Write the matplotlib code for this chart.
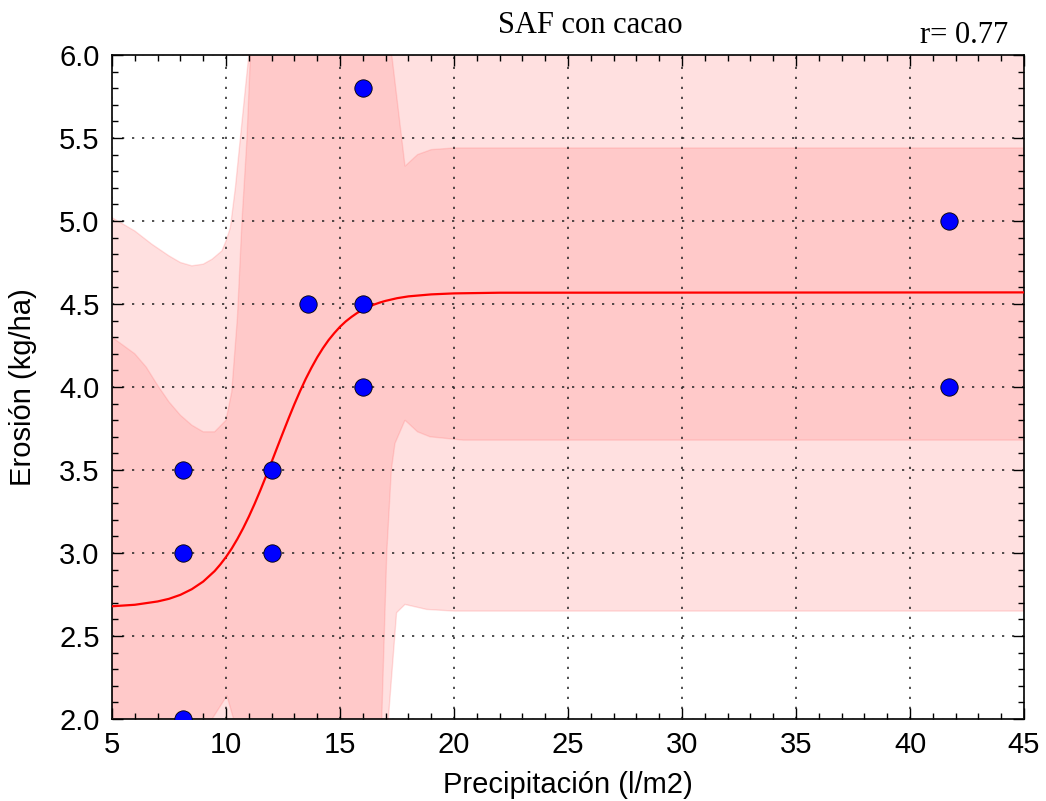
import numpy as np
import matplotlib
matplotlib.use('Agg')
import matplotlib.pyplot as plt
from matplotlib.ticker import MultipleLocator, FormatStrFormatter

# measured points
precip = [8.1, 8.1, 8.1, 12.0, 12.0, 13.6, 16.0, 16.0, 16.0, 41.7, 41.7]
erosion = [3.5, 3.0, 2.0, 3.5, 3.0, 4.5, 5.8, 4.5, 4.0, 5.0, 4.0]

# fitted curve
fit_x = [5, 6, 7, 7.5, 8, 8.5, 9, 9.5, 9.75, 10, 10.25, 10.5, 10.75, 11, 11.25,
         11.5, 11.75, 12, 12.25, 12.5, 12.75, 13, 13.25, 13.5, 13.75, 14, 14.25,
         14.5, 14.75, 15, 15.25, 15.5, 15.75, 16, 16.25, 16.5, 16.75, 17, 17.5,
         18, 19, 20, 22, 45]
fit_y = [2.679, 2.688, 2.708, 2.724, 2.748, 2.782, 2.828, 2.891, 2.931, 2.976,
         3.027, 3.085, 3.149, 3.219, 3.295, 3.376, 3.461, 3.549, 3.638, 3.726,
         3.813, 3.897, 3.976, 4.050, 4.117, 4.179, 4.234, 4.283, 4.325, 4.363,
         4.395, 4.422, 4.446, 4.466, 4.483, 4.497, 4.509, 4.519, 4.535, 4.546,
         4.558, 4.564, 4.568, 4.570]

# inner band (confidence)
ci_up_x = [5, 6, 6.5, 7, 7.5, 8, 8.5, 9, 9.5, 10, 10.25, 10.5, 10.7, 10.92, 11.07,
           11.3, 17.0, 17.27, 17.85, 18.4, 19.0, 20, 45]
ci_up_y = [4.30, 4.20, 4.12, 4.01, 3.91, 3.83, 3.77, 3.73, 3.73, 3.80, 3.97, 4.42,
           5.0, 5.5, 6.0, 6.8, 6.8, 6.0, 5.33, 5.40, 5.43, 5.44, 5.44]
ci_lo_x = [5, 9.0, 9.39, 10.04, 10.33, 11, 16.7, 16.83, 17.05, 17.25, 17.41,
           17.85, 18.4, 18.95, 20.4, 45]
ci_lo_y = [1.0, 1.7, 2.0, 2.14, 2.0, 1.5, 1.5, 2.0, 3.0, 3.5, 3.66,
           3.80, 3.73, 3.70, 3.68, 3.68]

# outer band (prediction)
pi_up_x = [5, 6, 6.75, 7.5, 8, 8.5, 9, 9.39, 9.82, 10.0, 10.19, 10.41, 10.63,
           10.85, 11.0, 11.2, 45]
pi_up_y = [5.02, 4.94, 4.86, 4.79, 4.75, 4.73, 4.74, 4.77, 4.82, 4.88, 4.96,
           5.20, 5.50, 5.80, 6.0, 6.5, 6.8]
pi_lo_x = [5, 17.0, 17.12, 17.48, 17.85, 18.8, 20, 45]
pi_lo_y = [1.0, 1.5, 2.0, 2.64, 2.69, 2.66, 2.65, 2.65]

r_value = 0.77

plt.rcParams['font.family'] = 'Liberation Sans'
plt.rcParams['lines.scale_dashes'] = False

fig = plt.figure(figsize=(10.46, 8.01), dpi=100)
ax = fig.add_axes([0.1071, 0.1024, 0.8719, 0.8289])

ax.fill(np.r_[pi_up_x, pi_lo_x[::-1]], np.r_[pi_up_y, pi_lo_y[::-1]],
        color='red', alpha=0.12, lw=1)
ax.fill(np.r_[ci_up_x, ci_lo_x[::-1]], np.r_[ci_up_y, ci_lo_y[::-1]],
        color='red', alpha=0.10, lw=1)

ax.plot(fit_x, fit_y, color='red', lw=1.6, zorder=3)
ax.plot(precip, erosion, 'o', color='blue', mec='black', mew=0.6, ms=12.5, zorder=4)

ax.set_xlim(5, 45)
ax.set_ylim(2, 6)
ax.xaxis.set_major_locator(MultipleLocator(5))
ax.xaxis.set_minor_locator(MultipleLocator(1))
ax.yaxis.set_major_locator(MultipleLocator(0.5))
ax.yaxis.set_minor_locator(MultipleLocator(0.1))
ax.yaxis.set_major_formatter(FormatStrFormatter('%.1f'))
ax.tick_params(which='both', direction='in', top=True, right=True, labelsize=21)
ax.tick_params(which='major', length=8, width=1, pad=9)
ax.tick_params(which='minor', length=4, width=1)
ax.grid(True, which='major', color='#222222', linestyle=(0, (1.6, 5.6)),
        linewidth=1.1)
ax.set_axisbelow(False)
for s in ax.spines.values():
    s.set_linewidth(1.2)

ax.set_xlabel('Precipitación (l/m2)', fontsize=21, labelpad=8)
ax.set_ylabel('Erosión (kg/ha)', fontsize=21, labelpad=16)

ax.text(0.524, 1.045, 'SAF con cacao', transform=ax.transAxes, ha='center',
        va='center', fontsize=22, family='Liberation Serif')
ax.text(0.983, 1.03, 'r= %.2f' % r_value, transform=ax.transAxes, ha='right',
        va='center', fontsize=22, family='Liberation Serif')

fig.savefig('out.png', dpi=100, facecolor='white')
